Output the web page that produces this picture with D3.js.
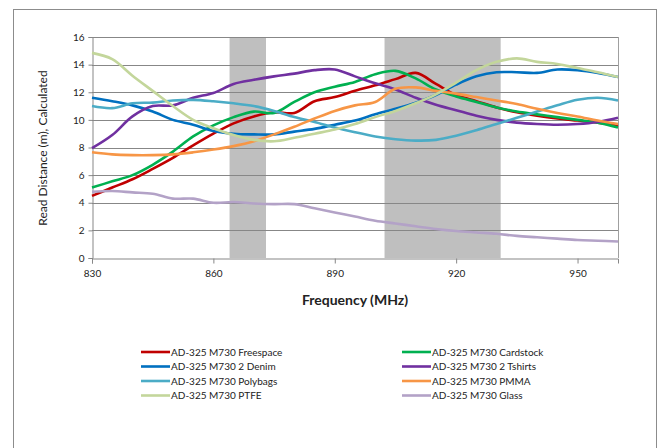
<!DOCTYPE html>
<html>
<head>
<meta charset="utf-8">
<script src="https://cdn.jsdelivr.net/npm/d3@7"></script>
<style>
  body { margin: 0; background: #fff; }
  text { font-family: Lato, "Open Sans", sans-serif; fill: #222; }
</style>
</head>
<body>
<div id="chart"></div>
<script>
// Frequencies (MHz) sampled every 5 MHz
const freq = [830, 835, 840, 845, 850, 855, 860, 865, 870, 875, 880, 885, 890, 895,
  900, 905, 910, 915, 920, 925, 930, 935, 940, 945, 950, 955, 960];

const freespace = [4.5, 5.1, 5.7, 6.45, 7.25, 8.15, 9.0, 9.75, 10.25, 10.55, 10.5, 11.35, 11.65, 12.1,
  12.5, 12.95, 13.4, 12.6, 11.8, 11.35, 10.9, 10.55, 10.3, 10.1, 9.95, 9.8, 9.55];
const cardstock = [5.1, 5.55, 6.0, 6.75, 7.7, 8.8, 9.6, 10.2, 10.6, 10.5, 11.3, 12.0, 12.4, 12.75,
  13.3, 13.55, 13.0, 12.2, 11.7, 11.3, 10.9, 10.6, 10.4, 10.2, 10.0, 9.8, 9.45];
const denim = [11.6, 11.35, 11.05, 10.6, 10.0, 9.65, 9.2, 9.0, 8.95, 8.95, 9.15, 9.35, 9.65, 9.95,
  10.4, 10.8, 11.25, 11.8, 12.55, 13.15, 13.45, 13.45, 13.4, 13.65, 13.6, 13.4, 13.1];
const tshirts = [7.95, 8.9, 10.25, 11.0, 11.05, 11.6, 11.95, 12.6, 12.9, 13.15, 13.35, 13.6, 13.65, 13.15,
  12.65, 12.2, 11.6, 11.1, 10.7, 10.3, 10.0, 9.8, 9.7, 9.65, 9.7, 9.85, 10.15];
const polybags = [11.0, 10.85, 11.2, 11.25, 11.4, 11.45, 11.35, 11.2, 11.0, 10.65, 10.2, 9.85, 9.45, 9.1,
  8.8, 8.6, 8.5, 8.55, 8.85, 9.25, 9.7, 10.15, 10.6, 11.05, 11.45, 11.6, 11.4];
const pmma = [7.65, 7.5, 7.45, 7.45, 7.5, 7.65, 7.85, 8.1, 8.45, 8.95, 9.5, 10.1, 10.65, 11.05,
  11.3, 12.25, 12.35, 12.1, 11.9, 11.65, 11.4, 11.15, 10.8, 10.5, 10.25, 9.95, 9.7];
const ptfe = [14.85, 14.4, 13.2, 12.1, 11.0, 10.0, 9.4, 8.9, 8.55, 8.45, 8.7, 9.0, 9.3, 9.7,
  10.2, 10.65, 11.2, 11.85, 12.7, 13.6, 14.2, 14.45, 14.2, 14.05, 13.75, 13.45, 13.1];
const glass = [4.8, 4.85, 4.75, 4.65, 4.3, 4.3, 4.0, 4.05, 3.95, 3.9, 3.9, 3.6, 3.3, 3.0,
  2.7, 2.5, 2.3, 2.1, 1.95, 1.85, 1.75, 1.6, 1.5, 1.4, 1.3, 1.25, 1.2];

const seriesNames = ["AD-325 M730 Freespace", "AD-325 M730 Cardstock", "AD-325 M730 2 Denim",
  "AD-325 M730 2 Tshirts", "AD-325 M730 Polybags", "AD-325 M730 PMMA",
  "AD-325 M730 PTFE", "AD-325 M730 Glass"];
const seriesValues = [freespace, cardstock, denim, tshirts, polybags, pmma, ptfe, glass];
const seriesColors = ["#C00000", "#00B050", "#0070C0", "#7030A0", "#4BACC6", "#F79646", "#C3D69B", "#B3A2C7"];

// shaded frequency bands (MHz)
const bands = [[864, 873], [902.3, 931]];
const xTicks = [830, 860, 890, 920, 950];
const yTicks = [0, 2, 4, 6, 8, 10, 12, 14, 16];

const w = 663, h = 448;
const plot = { left: 92, right: 618, top: 37, bottom: 258 };

const svg = d3.select("#chart").append("svg").attr("width", w).attr("height", h);

svg.append("rect")
  .attr("x", 13.5).attr("y", 9.5)
  .attr("width", 643).attr("height", 460)
  .attr("fill", "#fff").attr("stroke", "#8c8c8c");

const x = d3.scaleLinear().domain([830, 960]).range([plot.left, plot.right]);
const y = d3.scaleLinear().domain([0, 16]).range([plot.bottom, plot.top]);

// bands
svg.append("g").selectAll("rect")
  .data(bands)
  .enter()
  .append("rect")
  .attr("x", d => x(d[0]))
  .attr("width", d => x(d[1]) - x(d[0]))
  .attr("y", plot.top)
  .attr("height", plot.bottom - plot.top)
  .attr("fill", "#bfbfbf");

// grid lines
svg.append("g").selectAll("line")
  .data(yTicks.slice(1))
  .enter()
  .append("line")
  .attr("x1", plot.left).attr("x2", plot.right)
  .attr("y1", d => Math.round(y(d)) + 0.5).attr("y2", d => Math.round(y(d)) + 0.5)
  .attr("stroke", "#878787");

// right border
svg.append("line")
  .attr("x1", plot.right + 0.5).attr("x2", plot.right + 0.5)
  .attr("y1", plot.top).attr("y2", plot.bottom)
  .attr("stroke", "#a0a0a0");

// axes
const yAxis = svg.append("g")
  .attr("transform", `translate(${plot.left + 0.5},0)`)
  .call(d3.axisLeft(y).tickValues(yTicks).tickSize(4).tickPadding(4));
const xAxis = svg.append("g")
  .attr("transform", `translate(0,${plot.bottom + 0.5})`)
  .call(d3.axisBottom(x).tickValues(xTicks).tickSize(5).tickPadding(6));

[xAxis, yAxis].forEach(a => {
  a.select(".domain").attr("stroke", "#878787");
  a.selectAll(".tick line").attr("stroke", "#878787");
  a.selectAll("text").attr("font-size", 10).attr("fill", "#333")
    .style("font-family", "Lato, sans-serif");
});

// lines
const line = d3.line()
  .x((d, i) => x(freq[i]))
  .y(d => y(d))
  .curve(d3.curveCatmullRom.alpha(0.5));

svg.append("g").selectAll("path")
  .data(seriesValues)
  .enter()
  .append("path")
  .attr("d", line)
  .attr("fill", "none")
  .attr("stroke", (d, i) => seriesColors[i])
  .attr("stroke-width", 2.6)
  .attr("stroke-linejoin", "round");

// axis titles
svg.append("text")
  .attr("x", 355).attr("y", 305)
  .attr("text-anchor", "middle")
  .attr("font-size", 14).attr("font-weight", "bold")
  .text("Frequency (MHz)");

svg.append("text")
  .attr("transform", "translate(47,148) rotate(-90)")
  .attr("text-anchor", "middle")
  .attr("font-size", 12)
  .text("Read Distance (m), Calculated");

// legend: two columns, four rows
const legend = svg.append("g").selectAll("g")
  .data(seriesNames)
  .enter()
  .append("g")
  .attr("transform", (d, i) => {
    let col = i % 2, row = Math.floor(i / 2);
    return `translate(${col ? 402 : 141},${352 + row * 14.5})`;
  });

legend.append("line")
  .attr("x1", 0).attr("x2", 29)
  .attr("stroke", (d, i) => seriesColors[i])
  .attr("stroke-width", 2.6);

legend.append("text")
  .attr("x", 30).attr("y", 3.5)
  .attr("font-size", 10)
  .text(d => d);
</script>
</body>
</html>
